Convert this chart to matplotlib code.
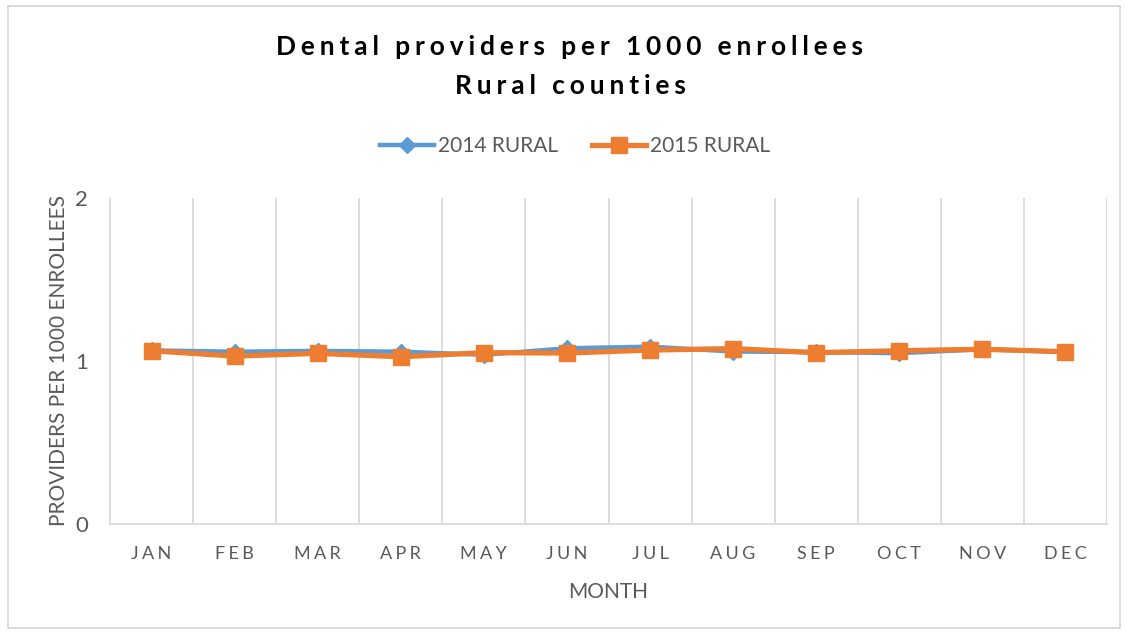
import matplotlib.pyplot as plt
from matplotlib.patches import Rectangle

months = ["JAN", "FEB", "MAR", "APR", "MAY", "JUN",
          "JUL", "AUG", "SEP", "OCT", "NOV", "DEC"]
rural_2014 = [1.065, 1.057, 1.062, 1.057, 1.038, 1.078,
              1.088, 1.058, 1.055, 1.048, 1.072, 1.056]
rural_2015 = [1.063, 1.030, 1.047, 1.026, 1.051, 1.049,
              1.067, 1.076, 1.051, 1.063, 1.072, 1.057]
yticks = [0, 1, 2]

blue = "#5B9BD5"
orange = "#ED7D31"
grey_text = "#595959"
plt.rcParams["font.family"] = ["Lato", "DejaVu Sans"]

def spaced(s, sep="\u2009"):
    # expanded character spacing, like the office chart style
    return sep.join(s)

fig = plt.figure(figsize=(11.27, 6.33), dpi=100)
ax = fig.add_axes([110 / 1127, 1 - 524 / 633, 997 / 1127, 326 / 633])

x = list(range(len(months)))
ax.plot(x, rural_2014, color=blue, lw=3.2, marker="D", ms=8,
        label="2014 RURAL", zorder=3)
ax.plot(x, rural_2015, color=orange, lw=3.8, marker="s", ms=11.5,
        label="2015 RURAL", zorder=4)

ax.set_xlim(-0.5, len(months) - 0.5)
ax.set_ylim(0, 2)
ax.set_yticks(yticks)
ax.set_yticklabels([str(v) for v in yticks], fontsize=16, color=grey_text)
ax.set_xticks(x)
ax.set_xticklabels([spaced(m, "\u2009\u200a") for m in months], fontsize=13,
                   color=grey_text)
ax.tick_params(length=0)
ax.tick_params(axis="x", pad=16)
ax.tick_params(axis="y", pad=16)

# vertical gridlines between categories
for b in [i + 0.5 for i in range(len(months) - 1)] + [len(months) - 0.5]:
    ax.axvline(b, color="#D9D9D9", lw=1.3, zorder=1)
for side in ["top", "right"]:
    ax.spines[side].set_visible(False)
ax.spines["left"].set_color("#D9D9D9")
ax.spines["bottom"].set_color("#D9D9D9")
ax.spines["left"].set_linewidth(1.3)
ax.spines["bottom"].set_linewidth(1.3)

ax.set_xlabel("MONTH", fontsize=15, color=grey_text, labelpad=14)
ax.set_ylabel("PROVIDERS PER 1000 ENROLLEES", fontsize=15, color=grey_text,
              labelpad=4)

title_sep = "\u2009\u200a"
fig.text(570 / 1127, 1 - 47 / 633,
         spaced("Dental providers per 1000 enrollees", title_sep),
         ha="center", va="center", fontsize=19, fontweight="bold", color="black")
fig.text(570 / 1127, 1 - 86 / 633, spaced("Rural counties", title_sep),
         ha="center", va="center", fontsize=19, fontweight="bold", color="black")

fig.legend(loc="center", bbox_to_anchor=(575 / 1127, 1 - 146 / 633), ncol=2,
           frameon=False, fontsize=15, labelcolor=grey_text,
           handlelength=2.6, columnspacing=1.6, handletextpad=0.2)

fig.add_artist(Rectangle((8 / 1127, 1 - 628 / 633), 1112 / 1127, 622 / 633,
                         transform=fig.transFigure, fill=False,
                         edgecolor="#D9D9D9", lw=1.3))

fig.savefig("out.png", dpi=100, facecolor="white")
